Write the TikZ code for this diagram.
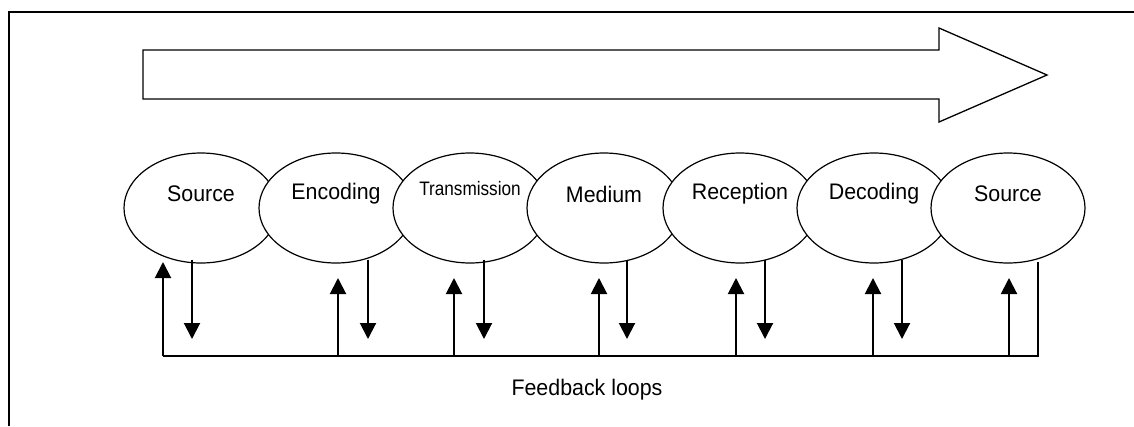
\documentclass[tikz,border=0pt]{standalone}
\usepackage{fontspec}
\setmainfont{Liberation Sans}
\newfontfamily\lblfont[FakeStretch=0.95]{Liberation Sans}
\newfontfamily\narrowfont[FakeStretch=0.88]{Liberation Sans}
\usetikzlibrary{arrows.meta,shapes.geometric}
\tikzset{
  blob/.style={ellipse,draw,fill=white,line width=1.2pt,minimum width=154pt,minimum height=110pt,inner sep=0pt},
  fb/.style={line width=2pt},
}
\begin{document}
\begin{tikzpicture}[x=1pt,y=-1pt,>={Triangle[length=16pt,width=16pt]},font=\lblfont\fontsize{22.5}{27}\selectfont]
                \def\cy{208} \def\fy{356}
                \useasboundingbox (0,0) rectangle (1134,426);
                \draw[line width=1.5pt] (9,426)--(9,12)--(1134,12);
                %===========================================
                \draw[line width=1.3pt,line join=miter] (143,50)--(939,50)--(939,28)--(1047,75)--(939,122)--(939,99)--(143,99)--cycle;
                %===========================================
                \foreach \x/\n/\t/\s in {201/src/Source/14,336/enc/Encoding/14,470/trans/{\narrowfont\fontsize{19.5}{22}\selectfont Transmission}/19,604/med/Medium/14,740/rec/Reception/14,874/dec/Decoding/14,1008/dst/Source/14}
                    \node[blob,label={[anchor=base,yshift=\s pt]center:\t}] (\n) at (\x,\cy) {};
                %===========================================
                \coordinate (fbL) at (163,\fy);
                \coordinate (fbR) at (1038,\fy);
                \coordinate (fbT) at (1038,262);
                \draw[fb] (fbL)--(fbR)--(fbT);
                \foreach \x/\y in {163/262,338/278,454/278,599/278,736/278,873/278,1009/278}
                    \draw[fb,->] (\x,0 |- fbL)--(\x,\y);
                \foreach \x/\n in {192/src,368/enc,484/trans,627/med,765/rec,902/dec}
                    \draw[fb,->,shorten <=-4pt] (\n.south -| \x,0)--(\x,339);
                \node[anchor=base] (fbtxt) at (587,395) {Feedback loops};
\end{tikzpicture}
\end{document}
